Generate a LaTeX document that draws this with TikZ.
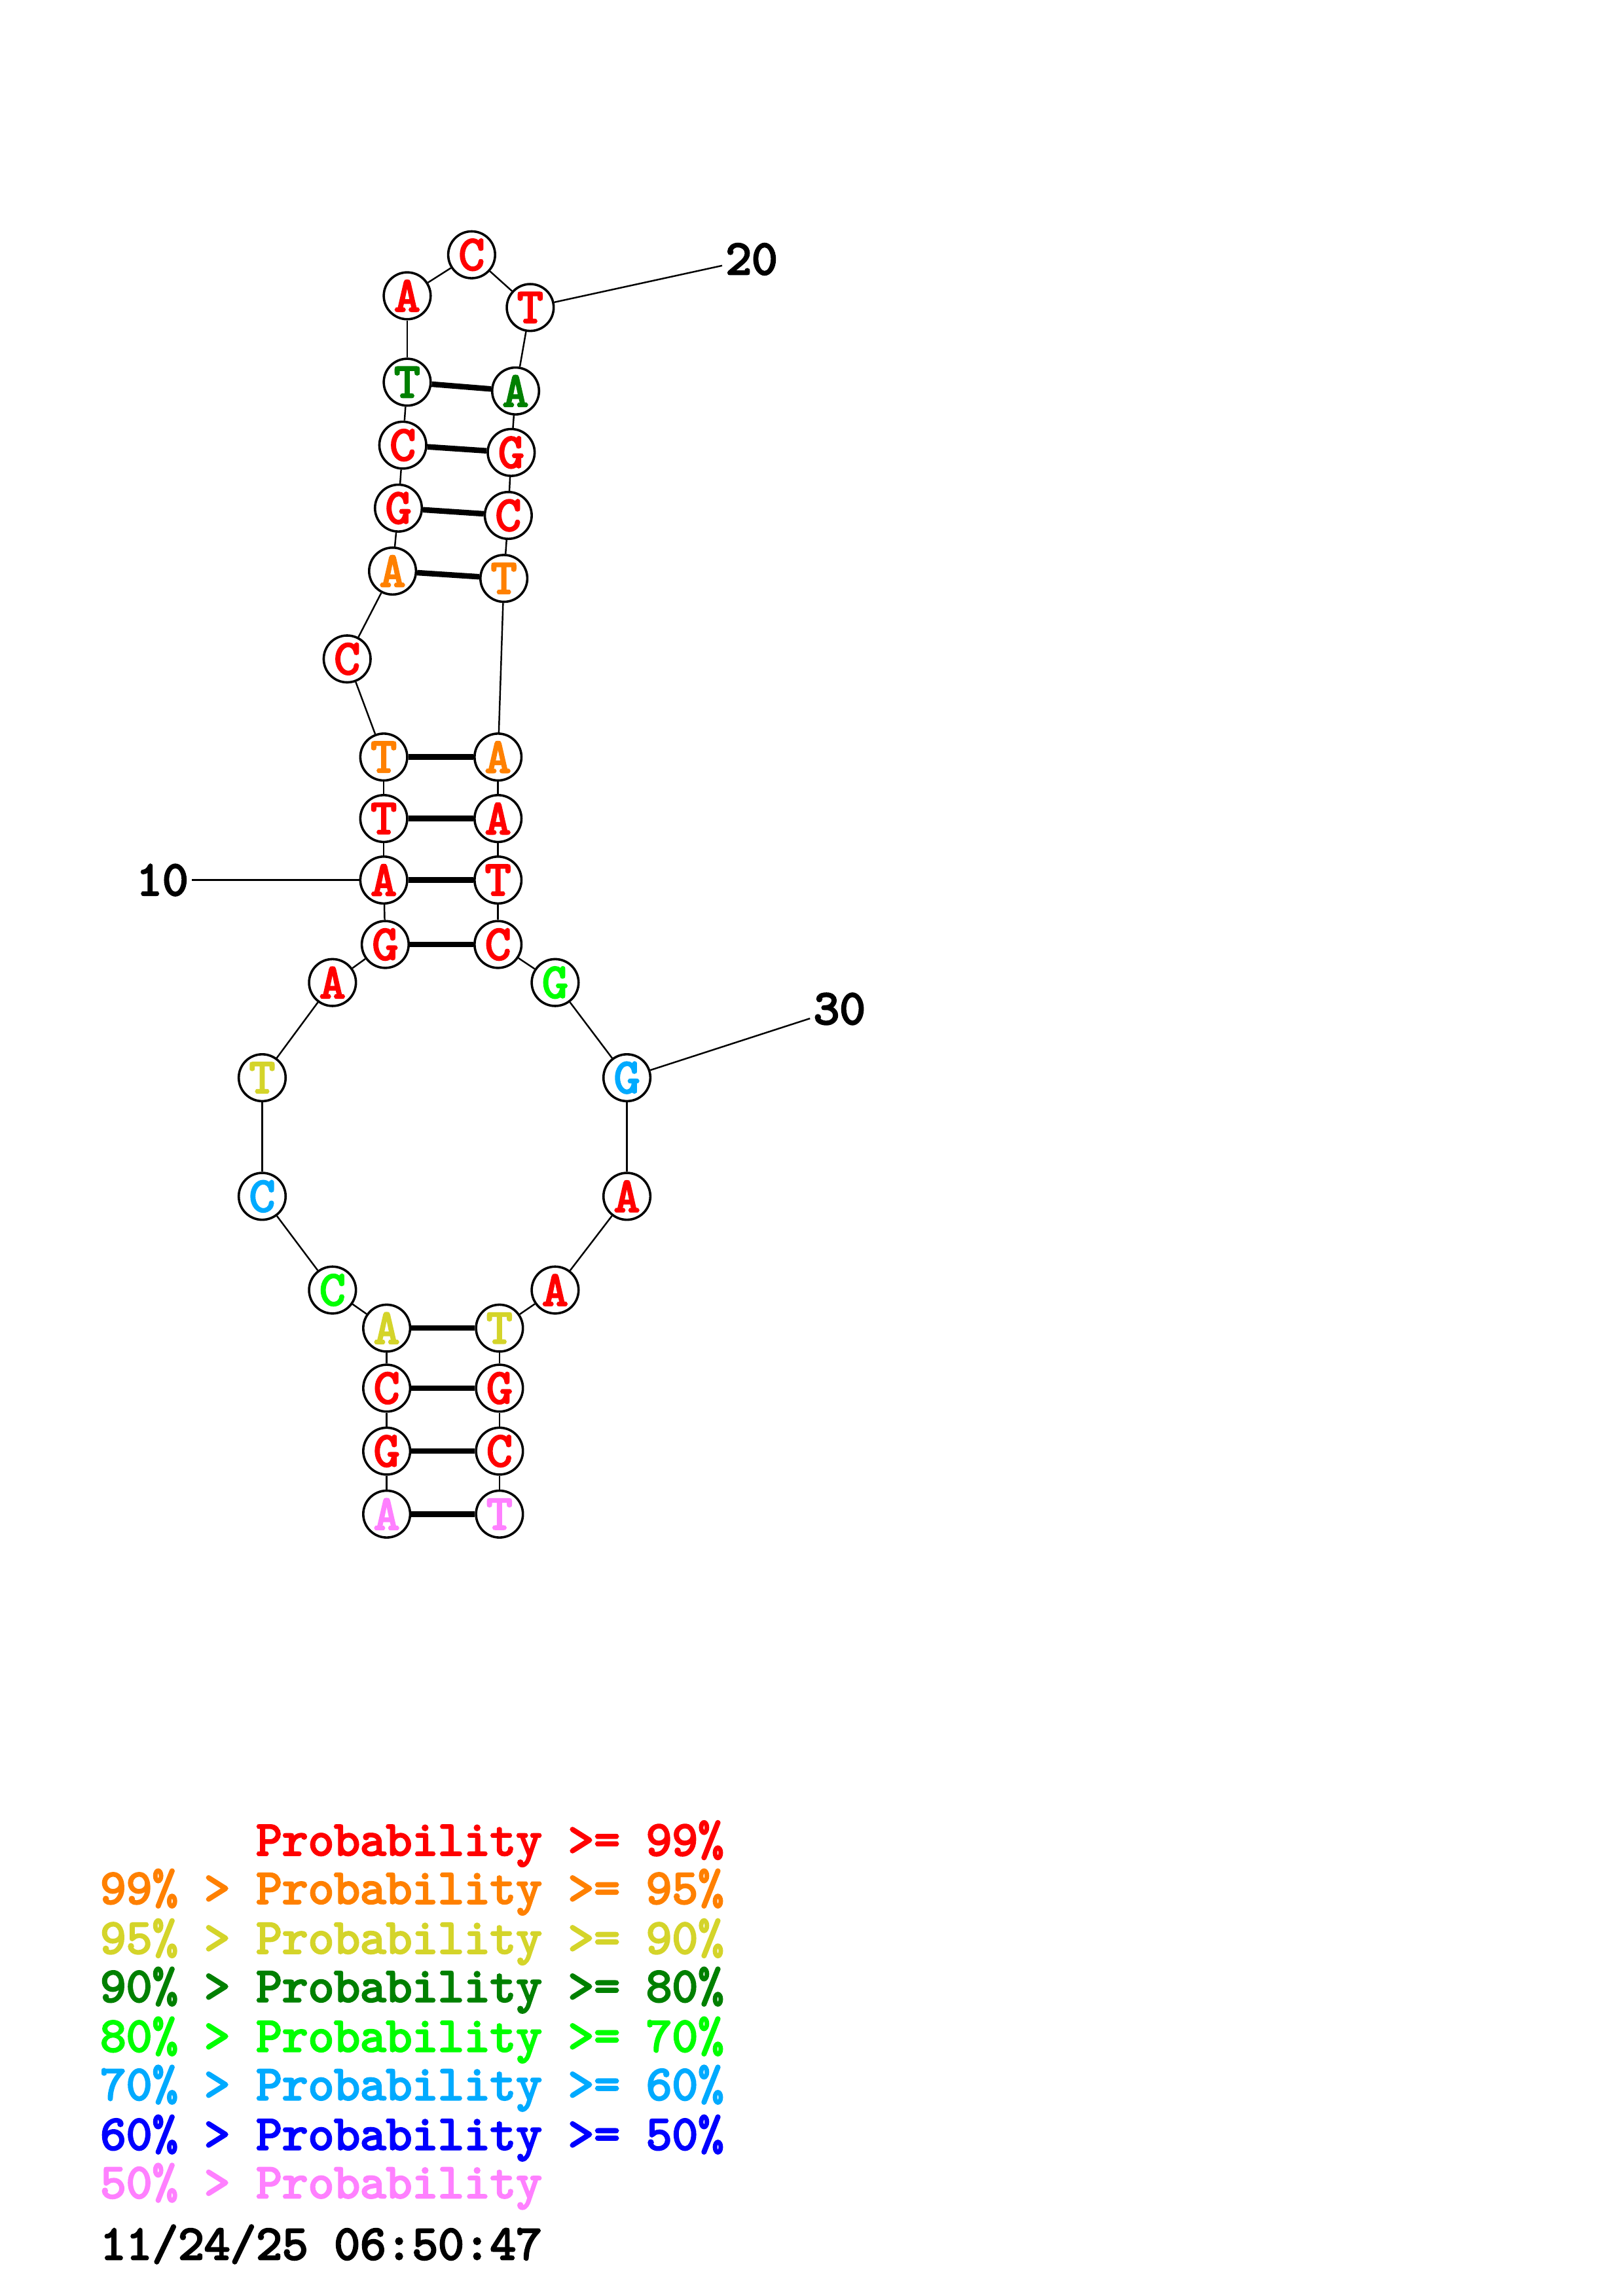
\documentclass[tikz,border=0pt]{standalone}
\usepackage{fontspec}
\newfontfamily\ntf{lmmono10-regular.otf}[FakeBold=3.5]
\definecolor{cred}{HTML}{FF0000}
\definecolor{corange}{HTML}{FF8000}
\definecolor{cyellow}{HTML}{D4D42A}
\definecolor{cdgreen}{HTML}{008000}
\definecolor{cgreen}{HTML}{00FF00}
\definecolor{clblue}{HTML}{00AAFF}
\definecolor{cblue}{HTML}{0000FF}
\definecolor{cpink}{HTML}{FF80FF}
\newcommand{\ntfont}{\ntf\fontsize{16.9}{18}\selectfont}
\tikzset{
  nt/.style={circle, draw=black, line width=0.8pt, fill=white, minimum size=16pt, inner sep=0pt,
    font=\ntfont},
  bb/.style={line width=0.55pt, draw=black},
  bp/.style={line width=1.9pt, draw=black},
  lbl/.style={inner sep=1pt, text=black, font=\ntfont},
  leg/.style={anchor=base west, inner sep=0pt, font=\ntfont}
}
\begin{document}
\begin{tikzpicture}[x=0.5pt,y=-0.5pt]
\useasboundingbox[fill=white] (0,0) rectangle (1108,1568);
% nucleotides
\node[nt,text=cpink]   (n1)  at (264,1034) {A};
\node[nt,text=cred]    (n2)  at (264,991) {G};
\node[nt,text=cred]    (n3)  at (264,948) {C};
\node[nt,text=cyellow] (n4)  at (264,907) {A};
\node[nt,text=cgreen]  (n5)  at (227,881) {C};
\node[nt,text=clblue]  (n6)  at (179,817) {C};
\node[nt,text=cyellow] (n7)  at (179,736) {T};
\node[nt,text=cred]    (n8)  at (227,671) {A};
\node[nt,text=cred]    (n9)  at (263,645) {G};
\node[nt,text=cred]    (n10) at (262,601) {A};
\node[nt,text=cred]    (n11) at (262,559) {T};
\node[nt,text=corange] (n12) at (262,517) {T};
\node[nt,text=cred]    (n13) at (237,450) {C};
\node[nt,text=corange] (n14) at (268,390) {A};
\node[nt,text=cred]    (n15) at (272,347) {G};
\node[nt,text=cred]    (n16) at (275,304) {C};
\node[nt,text=cdgreen] (n17) at (278,261) {T};
\node[nt,text=cred]    (n18) at (278,202) {A};
\node[nt,text=cred]    (n19) at (322,174) {C};
\node[nt,text=cred]    (n20) at (362,210) {T};
\node[nt,text=cdgreen] (n21) at (352,267) {A};
\node[nt,text=cred]    (n22) at (349,309) {G};
\node[nt,text=cred]    (n23) at (347,352) {C};
\node[nt,text=corange] (n24) at (344,395) {T};
\node[nt,text=corange] (n25) at (340,517) {A};
\node[nt,text=cred]    (n26) at (340,559) {A};
\node[nt,text=cred]    (n27) at (340,601) {T};
\node[nt,text=cred]    (n28) at (340,645) {C};
\node[nt,text=cgreen]  (n29) at (379,671) {G};
\node[nt,text=clblue]  (n30) at (428,736) {G};
\node[nt,text=cred]    (n31) at (428,817) {A};
\node[nt,text=cred]    (n32) at (379,881) {A};
\node[nt,text=cyellow] (n33) at (341,907) {T};
\node[nt,text=cred]    (n34) at (341,948) {G};
\node[nt,text=cred]    (n35) at (341,991) {C};
\node[nt,text=cpink]   (n36) at (341,1034) {T};
% backbone
\foreach \i [evaluate=\i as \j using int(\i+1)] in {1,...,35}
  \draw[bb] (n\i) -- (n\j);
% base pairs
\foreach \a/\b in {1/36,2/35,3/34,4/33,9/28,10/27,11/26,12/25,14/24,15/23,16/22,17/21}
  \draw[bp] (n\a) -- (n\b);
% position labels
\node[lbl,anchor=east] (l10) at (131,601) {10};
\node[lbl,anchor=west] (l20) at (493,177) {20};
\node[lbl,anchor=west] (l30) at (553,689) {30};
\draw[bb] (l10) -- (n10);
\draw[bb] (n20) -- (l20);
\draw[bb] (n30) -- (l30);
% legend
\node[leg,text=cred]    (g1) at (68,1267) {\phantom{99\% > }Probability >= 99\%};
\node[leg,text=corange] (g2) at (68,1300) {99\% > Probability >= 95\%};
\node[leg,text=cyellow] (g3) at (68,1334) {95\% > Probability >= 90\%};
\node[leg,text=cdgreen] (g4) at (68,1367) {90\% > Probability >= 80\%};
\node[leg,text=cgreen]  (g5) at (68,1401) {80\% > Probability >= 70\%};
\node[leg,text=clblue]  (g6) at (68,1434) {70\% > Probability >= 60\%};
\node[leg,text=cblue]   (g7) at (68,1468) {60\% > Probability >= 50\%};
\node[leg,text=cpink]   (g8) at (68,1501) {50\% > Probability};
\node[leg,text=black]   (g9) at (68,1543) {11/24/25 06:50:47};
\end{tikzpicture}
\end{document}
